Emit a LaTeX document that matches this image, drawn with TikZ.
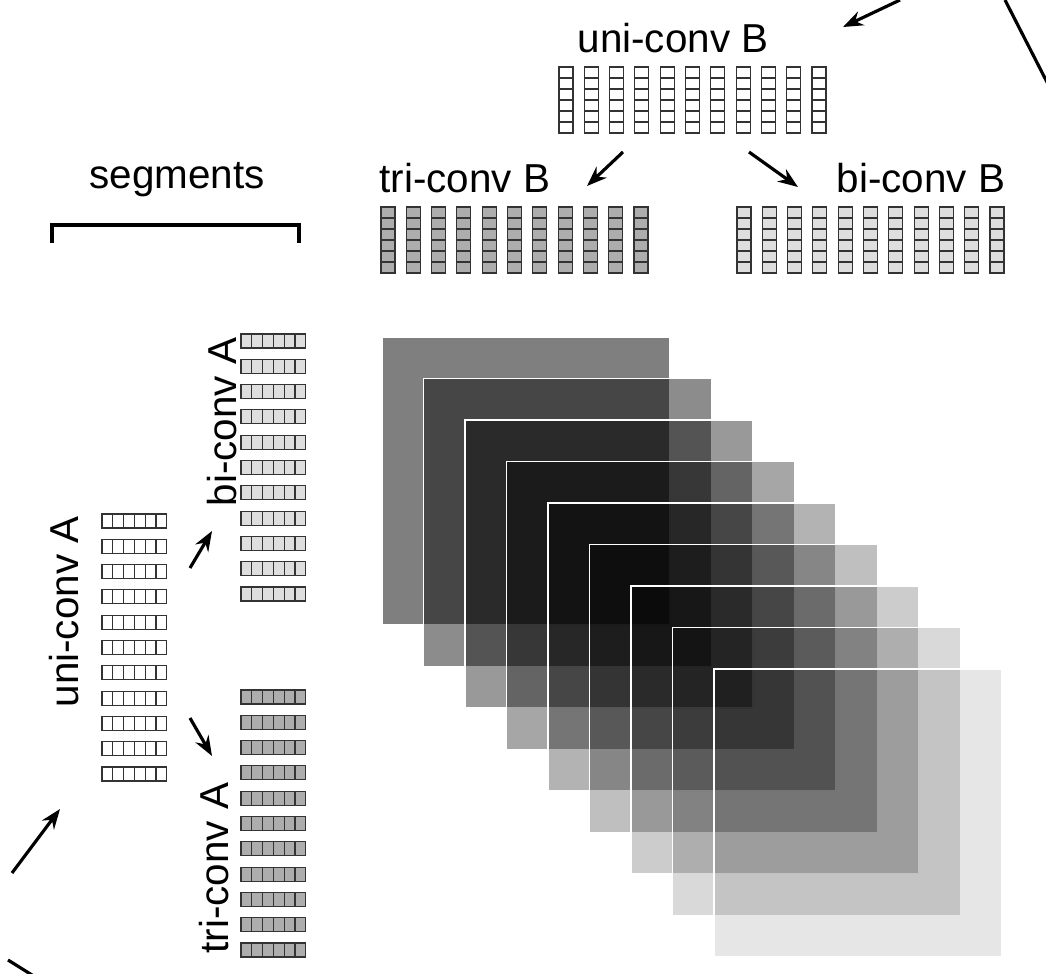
\documentclass[tikz,border=0pt]{standalone}
\usepackage{fontspec}
\setmainfont{Liberation Sans}
\usetikzlibrary{arrows.meta}
\definecolor{triGray}{gray}{0.68}
\definecolor{biGray}{gray}{0.87}
\tikzset{
	lbl/.style={inner sep=0pt, font=\fontsize{23}{26}\selectfont},
	cell/.style={draw=black!80, line width=0.6pt},
	arr/.style={-{Stealth[length=4mm,width=3mm]}, line width=1.8pt}
}
\begin{document}
\begin{tikzpicture}[x=0.02cm, y=-0.02cm]
	\useasboundingbox (0,0) rectangle (1046,974);
	\clip (0,0) rectangle (1046,974);
	% vertical stacks (B)
	\foreach \x/\y/\c in {559/67/white, 381/207/triGray, 737/207/biGray}
		\foreach \i in {0,...,10}
			\foreach \j in {0,...,5}
				\filldraw[cell, fill=\c] (\x+\i*25.3, \y+\j*11) rectangle ++(14, 11);
	% horizontal stacks (A)
	\foreach \x/\y/\c in {102/514/white, 241/334/biGray, 241/690/triGray}
		\foreach \i in {0,...,10}
			\foreach \j in {0,...,5}
				\filldraw[cell, fill=\c] (\x+\j*10.8, \y+\i*25.3) rectangle ++(10.8, 14);
	% labels
	\node[lbl] (uniB) at (673,38) {uni-conv B};
	\node[lbl] (triB) at (465,178) {tri-conv B};
	\node[lbl] (biB) at (921,178) {bi-conv B};
	\node[lbl] (seg) at (177,180) {segments};
	\node[lbl, rotate=90] (biA) at (222,422) {bi-conv A};
	\node[lbl, rotate=90] (uniA) at (64,612) {uni-conv A};
	\node[lbl, rotate=90] (triA) at (214,868) {tri-conv A};
	% bracket
	\draw[line width=2.5pt] (52,243) -- (52,225) -- (299,225) -- (299,243);
	% arrows
	\coordinate (t1) at (900,0);   \coordinate (t2) at (843,27);
	\coordinate (r1) at (1005,0);  \coordinate (r2) at (1050,88);
	\coordinate (ub1) at (623,152); \coordinate (ub2) at (587,186);
	\coordinate (ub3) at (749,152); \coordinate (ub4) at (798,187);
	\coordinate (ua1) at (190,568); \coordinate (ua2) at (212,531);
	\coordinate (ua3) at (190,718); \coordinate (ua4) at (212,756);
	\coordinate (l1) at (12,873);  \coordinate (l2) at (60,809);
	\coordinate (l3) at (8,960);   \coordinate (l4) at (40,980);
	\draw[arr] (t1) -- (t2);
	\draw[line width=1.8pt] (r1) -- (r2);
	\draw[arr] (ub1) -- (ub2);
	\draw[arr] (ub3) -- (ub4);
	\draw[arr] (ua1) -- (ua2);
	\draw[arr] (ua3) -- (ua4);
	\draw[arr] (l1) -- (l2);
	\draw[line width=1.8pt] (l3) -- (l4);
	% feature maps
	\foreach \k in {0,...,8} {
		\pgfmathsetmacro{\op}{0.5-0.05*\k}
		\filldraw[fill=black, fill opacity=\op, draw=white, line width=0.8pt]
			(382+\k*41.5, 337+\k*41.5) rectangle ++(288, 288);
	}
\end{tikzpicture}
\end{document}
